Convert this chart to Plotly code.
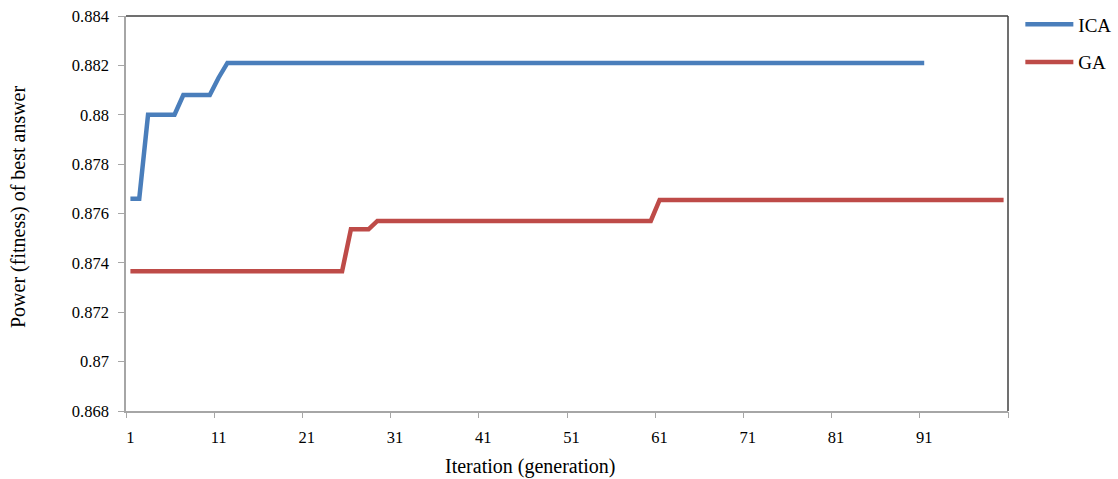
import plotly.graph_objects as go

# ---- data ----
iterations = list(range(1, 101))
ica_iter = list(range(1, 92))
ica_values = ([0.8766] * 2 + [0.8800] * 4 + [0.8808] * 4 + [0.8815] + [0.8821] * 80)
ga_values = ([0.87366] * 25 + [0.87536] * 3 + [0.87570] * 32 + [0.87655] * 40)

y_ticks = [0.868, 0.870, 0.872, 0.874, 0.876, 0.878, 0.880, 0.882, 0.884]
y_ticktext = ["0.868", "0.87", "0.872", "0.874", "0.876", "0.878", "0.88", "0.882", "0.884"]
x_label_vals = [1, 11, 21, 31, 41, 51, 61, 71, 81, 91]
x_tick_marks = [0.5 + 10 * i for i in range(11)]

FONT = "Liberation Serif, Times New Roman, serif"
AXIS_COLOR = "#a6a6a6"

fig = go.Figure()
fig.add_trace(go.Scatter(x=ica_iter, y=ica_values, mode="lines", name="ICA",
                         legendgroup="a",
                         line=dict(color="#4A7EBB", width=4.5)))
fig.add_trace(go.Scatter(x=iterations, y=ga_values, mode="lines", name="GA",
                         legendgroup="b",
                         line=dict(color="#BE4B48", width=4.5)))
# invisible helper trace for the tick-mark axis
fig.add_trace(go.Scatter(x=[0.5, 100.5], y=[0.868, 0.868], xaxis="x2", mode="lines",
                         line=dict(width=0), showlegend=False, hoverinfo="skip"))

fig.update_layout(
    width=1118, height=479,
    margin=dict(l=126, r=110, t=16, b=68, autoexpand=False),
    plot_bgcolor="white", paper_bgcolor="white",
    font=dict(family=FONT, size=16, color="#000000"),
    showlegend=True,
    legend=dict(x=1.014, y=1.027, xanchor="left", yanchor="top",
                font=dict(family=FONT, size=19), itemwidth=48,
                tracegroupgap=10, bgcolor="rgba(0,0,0,0)"),
    xaxis=dict(range=[0.5, 100.5], tickvals=x_label_vals,
               ticktext=[str(v) for v in x_label_vals],
               showline=True, linecolor=AXIS_COLOR, linewidth=1.5,
               ticks="outside", ticklen=6, tickcolor="rgba(0,0,0,0)",
               ticklabelstandoff=4, automargin=False,
               showgrid=False, zeroline=False,
               tickfont=dict(family=FONT, size=16.5)),
    xaxis2=dict(range=[0.5, 100.5], overlaying="x", anchor="y", side="bottom",
                tickvals=x_tick_marks, showticklabels=False,
                ticks="outside", ticklen=6, tickcolor=AXIS_COLOR, tickwidth=1.2,
                showline=False, showgrid=False, zeroline=False, automargin=False),
    yaxis=dict(range=[0.868, 0.884], tickvals=y_ticks, ticktext=y_ticktext,
               showline=True, linecolor=AXIS_COLOR, linewidth=1.5,
               ticks="outside", ticklen=6, tickcolor=AXIS_COLOR, tickwidth=1.2,
               ticklabelstandoff=6, automargin=False,
               showgrid=False, zeroline=False,
               tickfont=dict(family=FONT, size=16.5)),
    shapes=[
        dict(type="line", xref="paper", yref="paper", x0=0, x1=1, y0=1, y1=1,
             line=dict(color="#404040", width=1.5)),
        dict(type="line", xref="paper", yref="paper", x0=1, x1=1, y0=0, y1=1,
             line=dict(color="#404040", width=1.5)),
    ],
    annotations=[
        dict(text="Iteration (generation)", xref="paper", yref="paper",
             x=(530 - 126) / (1008 - 126), y=-(466 - 411) / (411 - 16),
             xanchor="center", yanchor="middle", showarrow=False,
             font=dict(family=FONT, size=20)),
        dict(text="Power (fitness) of best answer", xref="paper", yref="paper",
             x=-(126 - 18) / (1008 - 126), y=(411 - 207) / (411 - 16),
             xanchor="center", yanchor="middle", showarrow=False, textangle=-90,
             font=dict(family=FONT, size=20)),
    ],
)

fig.write_html("out.html")
